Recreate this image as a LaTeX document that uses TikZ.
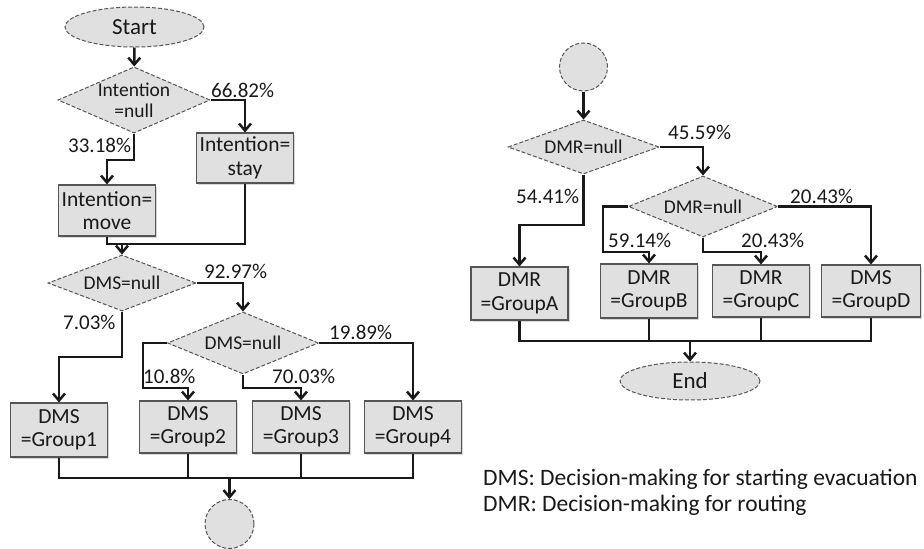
\documentclass[tikz,border=0pt]{standalone}
\usepackage{fontspec}
\setmainfont{Carlito}
\usetikzlibrary{shapes.geometric,arrows.meta,shadows}
\definecolor{fillg}{RGB}{224,224,224}
\definecolor{edgeg}{RGB}{85,85,85}
\definecolor{ink}{RGB}{25,25,25}
\begin{document}
\begin{tikzpicture}[x=1pt,y=-1pt,
  every node/.style={text=ink},
  term/.style={ellipse, draw=edgeg, dash pattern=on 4pt off 2pt, fill=fillg, line width=1pt, inner sep=0pt, font=\fontsize{23}{25}\selectfont},
  dec/.style={diamond, draw=edgeg, dash pattern=on 4pt off 2pt, fill=fillg, line width=1pt, inner sep=0pt, aspect=2.3, align=center, font=\fontsize{19.5}{21}\selectfont},
  proc/.style={rectangle, draw=edgeg, fill=fillg, line width=1.1pt, inner sep=0pt, minimum width=97, minimum height=52, align=center, font=\fontsize{21.5}{23.5}\selectfont, drop shadow={shadow xshift=1.5pt,shadow yshift=-1.5pt,fill=gray!60}},
  conn/.style={circle, draw=edgeg, dash pattern=on 4pt off 2pt, fill=fillg, line width=1pt, minimum size=49, inner sep=0pt},
  arr/.style={draw=ink, line width=2.5pt, -{Straight Barb[length=7pt,width=12pt]}},
  ln/.style={draw=ink, line width=2.5pt},
  feed/.style={draw=ink, line width=1.6pt},
  pct/.style={font=\fontsize{21}{24}\selectfont, inner sep=0pt, anchor=base west},
]
\useasboundingbox (0,0) rectangle (924,549);

% left chart
\node[term, minimum width=139, minimum height=40] (start) at (134.5,27) {Start};
\node[dec, minimum width=150, minimum height=65] (d1) at (134,100) {Intention\\=null};
\node[proc, minimum height=50] (stay) at (245,158) {Intention=\\stay};
\node[proc, minimum height=51] (move) at (107,210.5) {Intention=\\move};
\node[dec, minimum width=148, minimum height=56] (d2) at (122,283) {DMS=null};
\node[dec, minimum width=151, minimum height=62] (d3) at (243,343) {DMS=null};
\node[proc, minimum height=54] (g1) at (59,430) {DMS\\=Group1};
\node[proc] (g2) at (188,427) {DMS\\=Group2};
\node[proc] (g3) at (301,427) {DMS\\=Group3};
\node[proc] (g4) at (413,427) {DMS\\=Group4};
\node[conn] (c1) at (229.5,524) {};

% right chart
\node[conn, minimum size=48] (c2) at (583.5,67) {};
\node[dec, minimum width=151, minimum height=54] (d4) at (583.5,147) {DMR=null};
\node[dec, minimum width=149, minimum height=61] (d5) at (703,206.5) {DMR=null};
\node[proc, minimum height=53] (ga) at (519.5,293.5) {DMR\\=GroupA};
\node[proc, minimum height=54] (gb) at (649,291) {DMR\\=GroupB};
\node[proc] (gc) at (761,291) {DMR\\=GroupC};
\node[proc, minimum width=99] (gd) at (871,291) {DMS\\=GroupD};
\node[term, minimum width=140, minimum height=38] (end) at (690,381) {End};

% legend
\node[anchor=north west, align=left, inner sep=0pt, font=\fontsize{23.5}{25.5}\selectfont] (leg) at (483,469) {DMS: Decision-making for starting evacuation\\DMR: Decision-making for routing};

% left connectors
\draw[arr] (start) -- (d1);
\draw[arr] (d1.east) -| (stay.north);
\draw[arr] (d1.south) -- (d1.south |- 0,160) -| (move.north);
\draw[ln] (move.south) |- (stay.south |- 0,244) -- (stay.south);
\draw[arr] (d2.north |- 0,244) -- (d2.north);
\draw[arr] (d2.east) -| (d3.north);
\draw[arr] (d2.south) -- (d2.south |- 0,357) -| (g1.north);
\draw[arr] (d3.west) -| (143,388) -| (g2.north);
\draw[arr] (d3.south) |- (g3.north |- 0,388) -- (g3.north);
\draw[arr] (d3.east) -| (g4.north);
\draw[ln] (g1.south) |- (g4.south |- 0,478) -- (g4.south);
\draw[feed] (g2.south) -- (g2.south |- 0,478);
\draw[feed] (g3.south) -- (g3.south |- 0,478);
\draw[arr] (c1.north |- 0,478) -- (c1.north);

\node[pct] (p1) at (211,97) {66.82\%};
\node[pct] (p2) at (68,152) {33.18\%};
\node[pct] (p3) at (204,278) {92.97\%};
\node[pct] (p4) at (63,329) {7.03\%};
\node[pct] (p5) at (143,383) {10.8\%};
\node[pct] (p6) at (272,383) {70.03\%};
\node[pct] (p7) at (329,339) {19.89\%};

% right connectors
\draw[arr] (c2) -- (d4);
\draw[arr] (d4.east) -| (d5.north);
\draw[arr] (d4.south) -- (d4.south |- 0,225) -| (ga.north);
\draw[arr] (d5.west) -| (603,252) -| (gb.north);
\draw[arr] (d5.south) |- (gc.north |- 0,252) -- (gc.north);
\draw[arr] (d5.east) -| (gd.north);
\draw[ln] (ga.south) |- (gd.south |- 0,341) -- (gd.south);
\draw[feed] (gb.south) -- (gb.south |- 0,341);
\draw[feed] (gc.south) -- (gc.south |- 0,341);
\draw[arr] (end.north |- 0,341) -- (end.north);

\node[pct] (q1) at (668,139) {45.59\%};
\node[pct] (q2) at (516,203) {54.41\%};
\node[pct] (q3) at (608,247) {59.14\%};
\node[pct] (q4) at (741,247) {20.43\%};
\node[pct] (q5) at (790,203) {20.43\%};
\end{tikzpicture}
\end{document}
